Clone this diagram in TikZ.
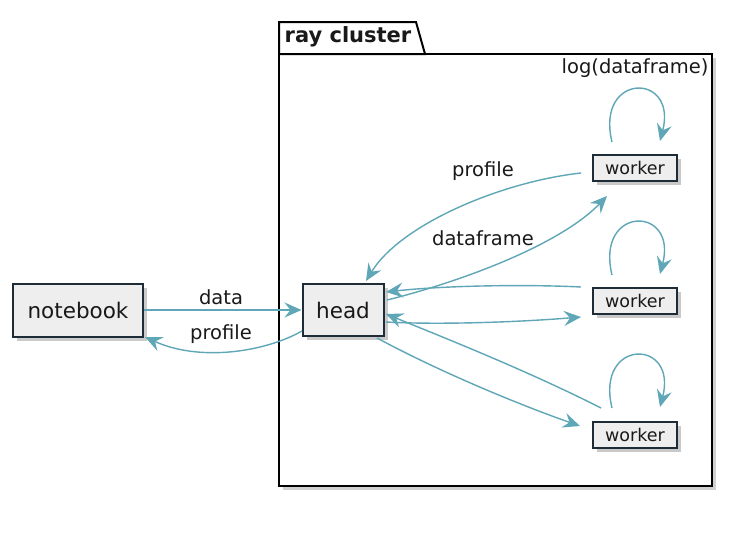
\documentclass[tikz,border=0pt]{standalone}
\usepackage{fontspec}
\setmainfont{DejaVu Sans}
\usetikzlibrary{arrows.meta,shadows}
\definecolor{edgecol}{HTML}{5FA7B7}
\definecolor{boxfill}{HTML}{EEEEEE}
\definecolor{boxline}{HTML}{1E2C38}
\tikzset{
  nodebox/.style={draw=boxline, line width=2pt, fill=boxfill, inner sep=0pt,
    drop shadow={shadow xshift=4pt, shadow yshift=-4pt, opacity=.35, fill=black!60}},
  conn/.style={draw=edgecol, line width=1.4pt, -{Stealth[length=17pt,width=15pt,inset=6pt]}},
  lbl/.style={font=\fontsize{19.5}{21}\selectfont, text=black!90},
}
\begin{document}
\begin{tikzpicture}[x=1pt,y=-1pt]
\useasboundingbox (0,0) rectangle (742,536);
% package
\fill[black!30, opacity=.6] (283,58) rectangle (716,490);
\filldraw[draw=black, fill=white, line width=2pt] (279,54) rectangle (712,486);
\filldraw[draw=black, fill=white, line width=2pt] (279,54) -- (279,22) -- (416,22) -- (425,54) -- cycle;
\node[font=\bfseries\fontsize{21}{23}\selectfont, text=black!90] (pkg) at (348,37) {ray cluster};
\node[lbl] (logl) at (635,68) {log(dataframe)};
% nodes
\node[nodebox, minimum width=130pt, minimum height=53pt, font=\fontsize{21.5}{23}\selectfont, text=black!90] (nb) at (78,310) {notebook};
\node[nodebox, minimum width=81pt, minimum height=52pt, font=\fontsize{21.5}{23}\selectfont, text=black!90] (head) at (343,310) {head};
\node[nodebox, minimum width=84pt, minimum height=26pt, font=\fontsize{17.5}{19}\selectfont, text=black!90] (w1) at (635,168) {worker};
\node[nodebox, minimum width=84pt, minimum height=26pt, font=\fontsize{17.5}{19}\selectfont, text=black!90] (w2) at (635,301) {worker};
\node[nodebox, minimum width=84pt, minimum height=26pt, font=\fontsize{17.5}{19}\selectfont, text=black!90] (w3) at (635,435) {worker};
% notebook <-> head
\draw[conn] (nb.east) -- (head.west);
\node[lbl] (ldata) at (221,297) {data};
\coordinate (hnb) at (302,331);
\coordinate (nbt) at (145,337);
\draw[conn] (hnb) .. controls (265,352) and (200,362) .. (nbt);
\node[lbl] (lprof) at (221,334) {profile};
% worker1 <-> head
\coordinate (w1s) at (581,173);
\coordinate (ht) at (366,281);
\draw[conn] (w1s) .. controls (500,182) and (400,225) .. (ht);
\node[lbl] (lprof2) at (483,171) {profile};
\coordinate (hr1) at (387,300);
\coordinate (w1t) at (607,196);
\draw[conn] (hr1) .. controls (460,282) and (560,245) .. (w1t);
\node[lbl] (ldf) at (483,238) {dataframe};
% worker2 <-> head
\coordinate (w2s) at (581,287);
\coordinate (hr2) at (386,292);
\draw[conn] (w2s) .. controls (520,284) and (440,286) .. (hr2);
\coordinate (hr3) at (386,322);
\coordinate (w2t) at (581,317);
\draw[conn] (hr3) .. controls (440,325) and (520,322) .. (w2t);
% worker3 <-> head
\coordinate (w3s) at (601,408);
\coordinate (hr4) at (386,314);
\draw[conn] (w3s) .. controls (530,372) and (450,340) .. (hr4);
\coordinate (hb) at (377,338);
\coordinate (w3t) at (580,426);
\draw[conn] (hb) .. controls (440,372) and (520,405) .. (w3t);
% self loops
\coordinate (l1a) at (612,142);
\coordinate (l1b) at (660,141);
\draw[conn] (l1a) .. controls (595,72) and (678,72) .. (l1b);
\coordinate (l2a) at (612,275);
\coordinate (l2b) at (660,274);
\draw[conn] (l2a) .. controls (595,205) and (678,205) .. (l2b);
\coordinate (l3a) at (612,408);
\coordinate (l3b) at (660,407);
\draw[conn] (l3a) .. controls (595,338) and (678,338) .. (l3b);
\end{tikzpicture}
\end{document}
